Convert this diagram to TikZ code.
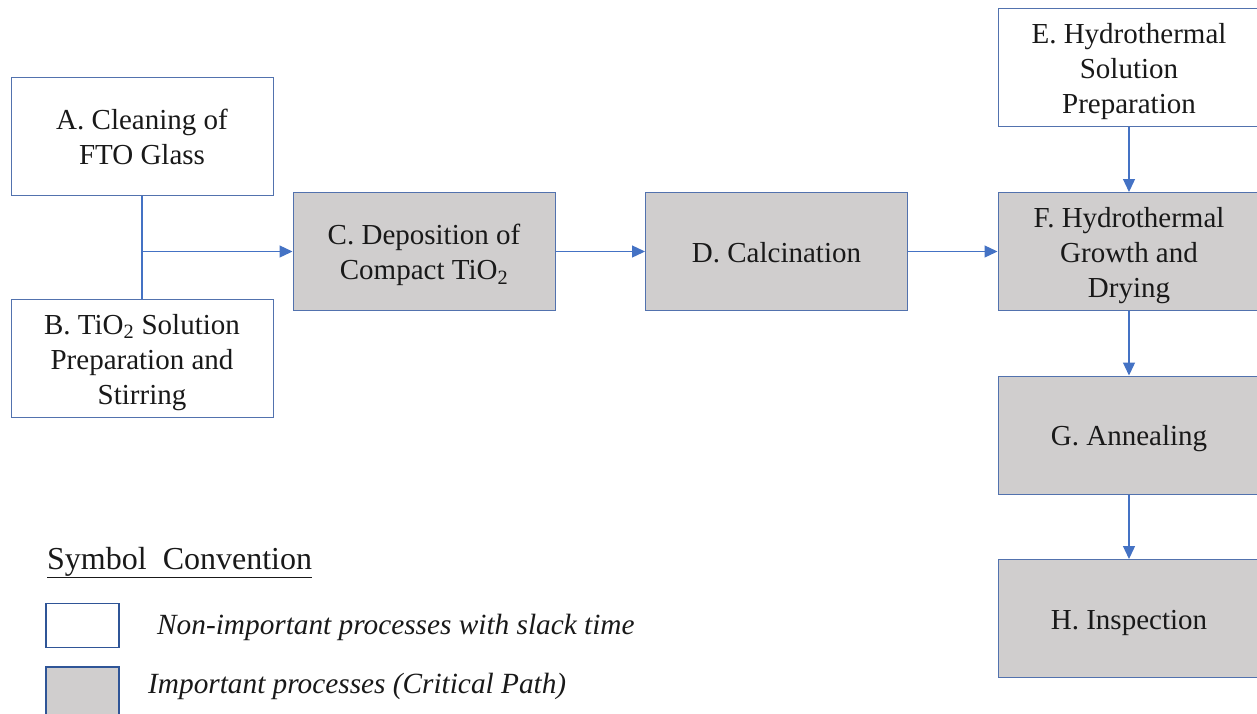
\documentclass[tikz,border=0pt]{standalone}
\usepackage{fontspec}
\setmainfont{Liberation Serif}
\usetikzlibrary{arrows.meta}
\definecolor{boxline}{HTML}{5272AE}
\definecolor{flow}{HTML}{4472C4}
\definecolor{critfill}{HTML}{D0CECE}
\definecolor{legline}{HTML}{2F5597}
% a strut per text line so every line box has the same height and depth
\newcommand\linestrut{\rule[-7pt]{0pt}{35pt}}
\begin{document}
\begin{tikzpicture}[x=1pt,y=-1pt,
  proc/.style={draw=boxline, line width=1pt, minimum width=262pt, minimum height=118pt,
    align=center, inner sep=0pt, text=black!90, font=\fontsize{29}{35}\selectfont},
  slack/.style={proc, fill=white},
  crit/.style={proc, fill=critfill},
  flowline/.style={draw=flow, line width=1.3pt},
  flowarrow/.style={flowline, -{Triangle[length=13pt,width=12pt]}},
  legbox/.style={draw=legline, line width=1.8pt, minimum width=73pt, inner sep=0pt},
  legtext/.style={anchor=base west, inner sep=0pt, text=black!90, font=\fontsize{29.3}{34}\selectfont\itshape},
]
\useasboundingbox (0,0) rectangle (1257,713);

% process boxes
\node[slack] (A) at (142,136)   {\linestrut A. Cleaning of\\\linestrut FTO Glass};
\node[slack] (B) at (142,358.5) {\linestrut B. TiO\textsubscript{2} Solution\\\linestrut Preparation and\\\linestrut Stirring};
\node[crit]  (C) at (424,251.5) {\linestrut C. Deposition of\\\linestrut Compact TiO\textsubscript{2}};
\node[crit]  (D) at (776.5,251.5) {\linestrut D. Calcination};
\node[slack] (E) at (1129,67.5) {\linestrut E. Hydrothermal\\\linestrut Solution\\\linestrut Preparation};
\node[crit]  (F) at (1129,251.5) {\linestrut F. Hydrothermal\\\linestrut Growth and\\\linestrut Drying};
\node[crit]  (G) at (1129,435)  {\linestrut G. Annealing};
\node[crit]  (H) at (1129,618.5) {\linestrut H. Inspection};

% connectors
\coordinate (J) at (A.south |- C.west);
\draw[flowline] (A.south) -- (B.north);
\draw[flowarrow] (J) -- (C.west);
\draw[flowarrow] (C.east) -- (D.west);
\draw[flowarrow] (D.east) -- (F.west);
\draw[flowarrow] (E.south) -- (F.north);
\draw[flowarrow] (F.south) -- (G.north);
\draw[flowarrow] (G.south) -- (H.north);

% legend
\node[anchor=base west, inner sep=0pt, text=black!90, font=\fontsize{32}{36}\selectfont]
  (legtitle) at (47,569) {\underline{Symbol\hspace{0.5em}Convention}};
\node[legbox, minimum height=44pt, fill=white] (legslack) at (82.5,625.5) {};
\node[legbox, minimum height=50pt, fill=critfill] (legcrit) at (82.5,692) {};
\node[legtext] (legslacktext) at (157,634) {Non-important processes with slack time};
\node[legtext] (legcrittext) at (148,693) {Important processes (Critical Path)};
\end{tikzpicture}
\end{document}
